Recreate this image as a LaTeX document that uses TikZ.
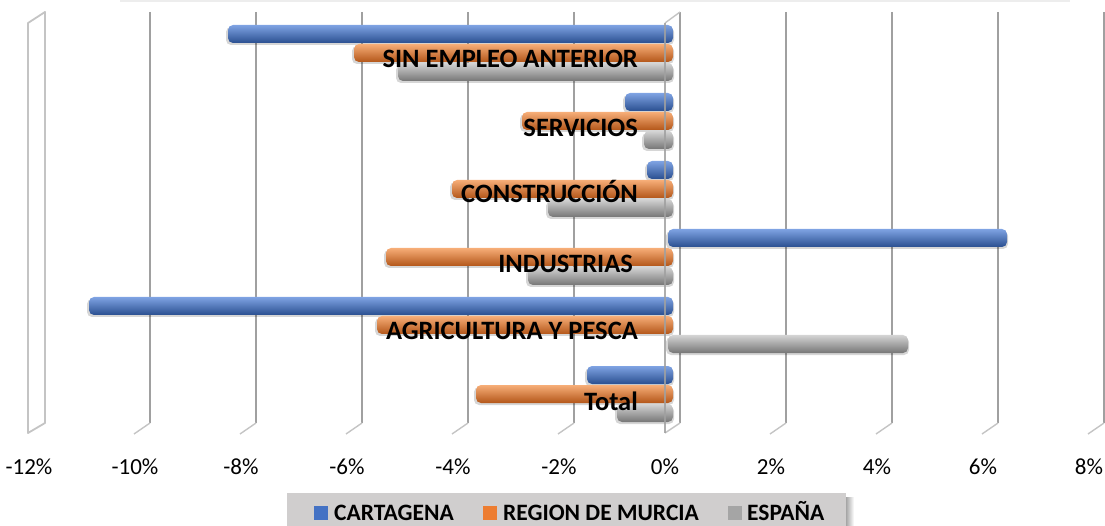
\documentclass[tikz,border=0pt]{standalone}
\usepackage{fontspec}
\setmainfont{Carlito}
\definecolor{blueT}{HTML}{7FA3E3}
\definecolor{blueM}{HTML}{4472C4}
\definecolor{blueB}{HTML}{2A4F90}
\definecolor{orangeT}{HTML}{F7AE78}
\definecolor{orangeM}{HTML}{ED7D31}
\definecolor{orangeB}{HTML}{B35619}
\definecolor{grayT}{HTML}{D4D4D4}
\definecolor{grayM}{HTML}{A5A5A5}
\definecolor{grayB}{HTML}{767676}
\definecolor{gridc}{HTML}{A0A0A0}
\definecolor{wallc}{HTML}{C4C4C4}
\definecolor{legbg}{HTML}{D0CECE}
\newcommand{\mybar}[4]{%
  \fill[black,opacity=0.16,rounded corners=5pt] ({#2-2},{#1+2}) rectangle ({#3+1},{#1+20});
  \shade[rounded corners=5pt,top color=#4T,middle color=#4M,bottom color=#4B] (#2,#1) rectangle (#3,{#1+18});
}
\tikzset{
  gridline/.style={draw=gridc,line width=1.5pt},
  floorline/.style={draw=wallc,line width=1.4pt},
  wallline/.style={draw=wallc,line width=1.8pt},
  catlabel/.style={font=\bfseries\fontsize{26.5}{30}\selectfont,inner sep=0pt,anchor=base east},
  axlabel/.style={font=\fontsize{23}{27}\selectfont,inner sep=0pt,anchor=base},
  leglabel/.style={font=\bfseries\fontsize{23.5}{27}\selectfont,inner sep=0pt,text depth=0pt,anchor=base west},
}
\begin{document}
\begin{tikzpicture}[x=1pt,y=-1pt]
\useasboundingbox (0,0) rectangle (1105,526);
\clip (0,0) rectangle (1105,526);
% faint top edge
\draw[draw=black!7,line width=1.5pt] (120,1) -- (1070,1);
% back gridlines and floor ticks
\foreach \v in {-10,-8,-6,-4,-2,2,4,6,8} {
  \coordinate (gt\v) at ({680+53*\v},12);
  \coordinate (gb\v) at ({680+53*\v},423);
  \coordinate (gf\v) at ({664+53*\v},434);
  \draw[gridline] (gt\v) -- (gb\v);
  \draw[floorline] (gb\v) -- (gf\v);
}
% 0% plane, back part
\coordinate (zbt) at (680,12);
\coordinate (zbb) at (680,423);
\coordinate (zft) at (665,23);
\coordinate (zfb) at (665,433);
\draw[gridline] (zbt) -- (zbb);
\draw[floorline] (zbb) -- (zfb);
\draw[floorline] (zbt) -- (zft);
% side wall at -12%
\coordinate (wbt) at (45,12);
\coordinate (wbb) at (45,423);
\coordinate (wft) at (28,23);
\coordinate (wfb) at (28,433);
\draw[wallline,fill=white,line join=round] (wbt) -- (wbb) -- (wfb) -- (wft) -- cycle;
% bars: top y, left x, right x, colour
% SIN EMPLEO ANTERIOR
\mybar{25}{228}{673}{blue}
\mybar{44}{354}{673}{orange}
\mybar{63}{398}{673}{gray}
% SERVICIOS
\mybar{93}{625}{673}{blue}
\mybar{112}{522}{673}{orange}
\mybar{131}{644}{673}{gray}
% CONSTRUCCION
\mybar{161}{647}{673}{blue}
\mybar{180}{452}{673}{orange}
\mybar{199}{548}{673}{gray}
% INDUSTRIAS
\mybar{229}{668}{1007}{blue}
\mybar{248}{386}{673}{orange}
\mybar{267}{528}{673}{gray}
% AGRICULTURA Y PESCA
\mybar{297}{89}{673}{blue}
\mybar{316}{377}{673}{orange}
\mybar{335}{668}{908}{gray}
% Total
\mybar{366}{587}{673}{blue}
\mybar{385}{476}{673}{orange}
\mybar{404}{617}{673}{gray}
% front 0% line over the bars
\draw[draw=gridc,line width=1.3pt,opacity=0.85] (zft) -- (zfb);
% category labels
\node[catlabel] (c1) at (638,68) {SIN EMPLEO ANTERIOR};
\node[catlabel] (c2) at (638,137) {SERVICIOS};
\node[catlabel] (c3) at (638,203) {CONSTRUCCIÓN};
\node[catlabel] (c4) at (633,273) {INDUSTRIAS};
\node[catlabel] (c5) at (638,340) {AGRICULTURA Y PESCA};
\node[catlabel] (c6) at (638,410) {Total};
% axis labels
\foreach \v/\t in {-12/-12\%,-10/-10\%,-8/-8\%,-6/-6\%,-4/-4\%,-2/-2\%,0/0\%,2/2\%,4/4\%,6/6\%,8/8\%} {
  \node[axlabel] (ax\v) at ({665+53*\v},474) {\t};
}
% legend
\shade[left color=black!35,right color=white] (846,497) rectangle (854,530);
\fill[legbg] (287,493) rectangle (846,530);
\fill[blueM] (314,506) rectangle (328,520);
\node[leglabel] (l1) at (334,520) {CARTAGENA};
\fill[orangeM] (483,506) rectangle (497,520);
\node[leglabel] (l2) at (503,520) {REGION DE MURCIA};
\fill[grayM] (728,506) rectangle (742,520);
\node[leglabel] (l3) at (747,520) {ESPAÑA};
\end{tikzpicture}
\end{document}
